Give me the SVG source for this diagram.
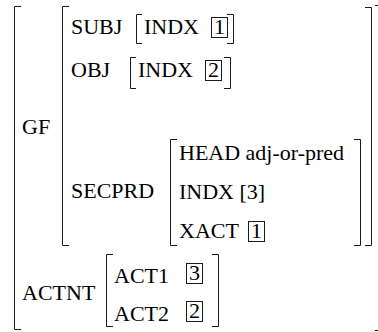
<svg xmlns="http://www.w3.org/2000/svg" width="378" height="332" viewBox="0 0 378 332">
<style>
text, .t { font-family: "Liberation Serif", "Times New Roman", serif !important; font-size: 22px !important; fill: #000 !important; }
.b { fill: none; stroke: #1a1a1a; stroke-width: 1; }
</style>
<rect width="378" height="332" fill="#fff"/>
<g id="outer">
<path class="b" d="M21,6.5H14.5V329.5H21"/>
<path class="b" d="M375,5.5H379V330.5H375"/>
</g>
<g id="gf">
<text class="t" x="22" y="134" style="font-family:'Liberation Serif',serif !important;font-size:22px !important">GF</text>
<path class="b" d="M69,6.5H62.5V245.5H69"/>
<path class="b" d="M365,7.5H371.5V245.5H365"/>
</g>
<g id="subj">
<text class="t" x="71" y="34" style="font-family:'Liberation Serif',serif !important;font-size:22px !important">SUBJ</text>
<path class="b" d="M142,14.5H136.5V43.5H142"/>
<text class="t" x="144" y="34" style="font-family:'Liberation Serif',serif !important;font-size:22px !important">INDX</text>
<rect class="b" x="211.5" y="17.5" width="16" height="20"/>
<text class="t" x="214" y="34" style="font-family:'Liberation Serif',serif !important;font-size:22px !important">1</text>
<path class="b" d="M227,14.5H233.5V43.5H227"/>
</g>
<g id="obj">
<text class="t" x="71" y="77" style="font-family:'Liberation Serif',serif !important;font-size:22px !important">OBJ</text>
<path class="b" d="M136,57.5H130.5V88.5H136"/>
<text class="t" x="138" y="77" style="font-family:'Liberation Serif',serif !important;font-size:22px !important">INDX</text>
<rect class="b" x="205.5" y="60.5" width="16" height="20"/>
<text class="t" x="208" y="77" style="font-family:'Liberation Serif',serif !important;font-size:22px !important">2</text>
<path class="b" d="M224,57.5H230.5V88.5H224"/>
</g>
<g id="secprd">
<text class="t" x="71" y="198" style="font-family:'Liberation Serif',serif !important;font-size:22px !important">SECPRD</text>
<path class="b" d="M177,139.5H170.5V245.5H177"/>
<text class="t" x="179" y="160" style="font-family:'Liberation Serif',serif !important;font-size:22px !important">HEAD adj-or-pred</text>
<text class="t" x="179" y="199" style="font-family:'Liberation Serif',serif !important;font-size:22px !important">INDX [3]</text>
<text class="t" x="179" y="238" style="font-family:'Liberation Serif',serif !important;font-size:22px !important">XACT</text>
<rect class="b" x="248.5" y="221.5" width="16" height="20"/>
<text class="t" x="251" y="238" style="font-family:'Liberation Serif',serif !important;font-size:22px !important">1</text>
<path class="b" d="M354,139.5H360.5V245.5H354"/>
</g>
<g id="actnt">
<text class="t" x="22" y="300" style="font-family:'Liberation Serif',serif !important;font-size:22px !important">ACTNT</text>
<path class="b" d="M113,254.5H106.5V326.5H113"/>
<text class="t" x="114" y="283" style="font-family:'Liberation Serif',serif !important;font-size:22px !important">ACT1</text>
<rect class="b" x="186.5" y="263.5" width="16" height="20"/>
<text class="t" x="189" y="280" style="font-family:'Liberation Serif',serif !important;font-size:22px !important">3</text>
<text class="t" x="114" y="321" style="font-family:'Liberation Serif',serif !important;font-size:22px !important">ACT2</text>
<rect class="b" x="186.5" y="301.5" width="16" height="20"/>
<text class="t" x="189" y="318" style="font-family:'Liberation Serif',serif !important;font-size:22px !important">2</text>
<path class="b" d="M212,254.5H218.5V326.5H212"/>
</g>
</svg>
